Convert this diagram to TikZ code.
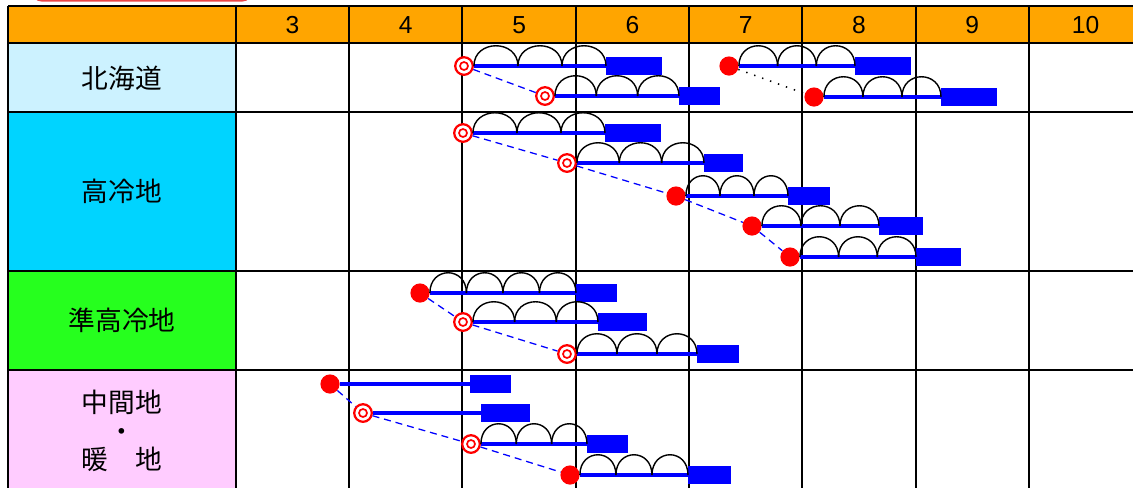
\documentclass[tikz,border=0pt]{standalone}
\usepackage{fontspec}
\setmainfont{Liberation Sans}
\newfontfamily\jfont{Noto Sans CJK JP}
\usetikzlibrary{calc}

\definecolor{hdrbg}{RGB}{255,165,0}
\definecolor{hokbg}{RGB}{204,242,255}
\definecolor{korbg}{RGB}{0,212,255}
\definecolor{junbg}{RGB}{38,255,30}
\definecolor{chubg}{RGB}{255,204,255}
\definecolor{tabred}{RGB}{235,70,70}

% hoops over a crop line, from #1 to #2, #3 of them
\newcommand{\hoops}[3]{%
  \foreach \nn in {1,...,#3}
    {\draw[hoop] ($(#1)!{(\nn-1)/#3}!(#2)$) .. controls +(0,-27) and +(0,-27) .. ($(#1)!{\nn/#3}!(#2)$);}%
}

\begin{document}
\begin{tikzpicture}[x=0.025cm, y=-0.025cm,
    dmark/.style={circle, draw=red, fill=white, line width=1.6pt, minimum size=0.44cm, inner sep=0pt,
      path picture={\draw[red, line width=1.2pt] (path picture bounding box.center) circle (0.1cm);}},
    fmark/.style={circle, fill=red, minimum size=0.48cm, inner sep=0pt},
    harv/.style={rectangle, fill=blue, minimum height=0.45cm, inner sep=0pt, anchor=west},
    plan/.style={blue, line width=2.8pt},
    link/.style={blue, line width=0.9pt, dash pattern=on 5pt off 3.5pt},
    dotlink/.style={black, line width=1.1pt, dash pattern=on 1pt off 5pt},
    hoop/.style={black, line width=1pt},
    gridline/.style={black, line width=1.5pt},
    monthlbl/.style={font=\fontsize{17.5}{20}\selectfont},
    arealbl/.style={font=\jfont\fontsize{19}{20.5}\selectfont, align=center}]
    \useasboundingbox (0,0) rectangle (1133,488);
    \clip (0,0) rectangle (1133,488);

    \draw[tabred, line width=1pt, rounded corners=6] (33,-30) rectangle (251,0.8);

    \fill[hdrbg] (8,6) rectangle (1133,43);
    \fill[hokbg] (8,43) rectangle (236,112);
    \fill[korbg] (8,112) rectangle (236,271);
    \fill[junbg] (8,271) rectangle (236,370);
    \fill[chubg] (8,370) rectangle (236,488);
    \foreach \yy in {6,43,112,271,370}
        \draw[gridline] (8,\yy) -- (1133,\yy);
    \foreach \xx in {8,236,349,462,576,689,802,916,1029}
        \draw[gridline] (\xx,6) -- (\xx,488);

    \foreach \m [count=\i from 0] in {3,...,10}
        \node[monthlbl] (mon\m) at ({292.5+113.3*\i},25) {\m};

    \node[arealbl] (hok) at (122,78) {北海道};
    \node[arealbl] (kor) at (122,191) {高冷地};
    \node[arealbl] (jun) at (122,320) {準高冷地};
    \node[arealbl] (chu) at (122,431) {中間地\\・\\暖　地};

    % 北海道
    \node[dmark] (h1) at (464,66) {};
    \node[dmark] (h2) at (545,96) {};
    \node[fmark] (h3) at (729,66) {};
    \node[fmark] (h4) at (814,97) {};
    \node[harv, minimum width=1.4cm] (h1-r) at (606,66) {};
    \node[harv, minimum width=1.025cm] (h2-r) at (679,96) {};
    \node[harv, minimum width=1.4cm] (h3-r) at (855,66) {};
    \node[harv, minimum width=1.4cm] (h4-r) at (941,97) {};

    % 高冷地
    \node[dmark] (k1) at (463,133) {};
    \node[dmark] (k2) at (567,163) {};
    \node[fmark] (k3) at (676,196) {};
    \node[fmark] (k4) at (752,226) {};
    \node[fmark] (k5) at (790,257) {};
    \node[harv, minimum width=1.38cm] (k1-r) at (605,133) {};
    \node[harv, minimum width=0.98cm] (k2-r) at (704,163) {};
    \node[harv, minimum width=1.05cm] (k3-r) at (788,196) {};
    \node[harv, minimum width=1.1cm] (k4-r) at (879,226) {};
    \node[harv, minimum width=1.12cm] (k5-r) at (916,257) {};

    % 準高冷地
    \node[fmark] (j1) at (420,293) {};
    \node[dmark] (j2) at (463,322) {};
    \node[dmark] (j3) at (567,354) {};
    \node[harv, minimum width=1.03cm] (j1-r) at (576,293) {};
    \node[harv, minimum width=1.23cm] (j2-r) at (598,322) {};
    \node[harv, minimum width=1.05cm] (j3-r) at (697,354) {};

    % 中間地・暖地
    \node[fmark] (c1) at (330,384) {};
    \node[dmark] (c2) at (363,413) {};
    \node[dmark] (c3) at (471,444) {};
    \node[fmark] (c4) at (570,475) {};
    \node[harv, minimum width=1.03cm] (c1-r) at (470,384) {};
    \node[harv, minimum width=1.23cm] (c2-r) at (481,413) {};
    \node[harv, minimum width=1.03cm] (c3-r) at (587,444) {};
    \node[harv, minimum width=1.08cm] (c4-r) at (688,475) {};

    \foreach \a in {h1,h2,h3,h4,k1,k2,k3,k4,k5,j1,j2,j3,c1,c2,c3,c4}
        \draw[plan] (\a.east) -- (\a-r.west);

    \foreach \a in {h1,h2,h3,h4,k1,k2,k3,k4,k5,j2,j3,c3,c4}
        {\hoops{\a.east}{\a-r.west}{3}}
    \hoops{j1.east}{j1-r.west}{4}

    \draw[link] (h1) -- (h2);
    \draw[dotlink] (h3) -- (h4);
    \draw[link] (k1) -- (k2) -- (k3) -- (k4) -- (k5);
    \draw[link] (j1) -- (j2) -- (j3);
    \draw[link] (c1) -- (c2) -- (c3) -- (c4);
\end{tikzpicture}
\end{document}
